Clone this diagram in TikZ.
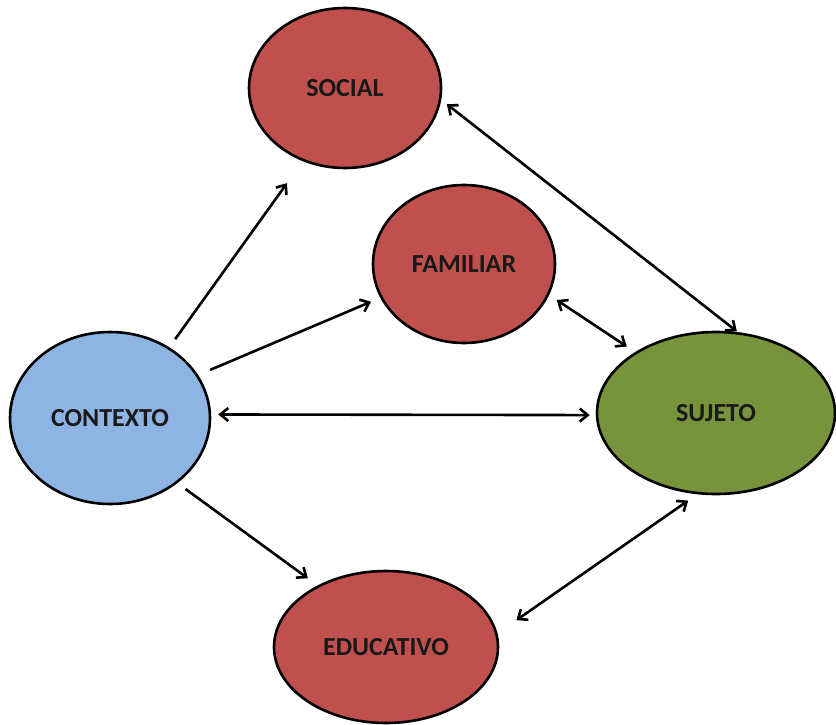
\documentclass[tikz,border=0pt]{standalone}
\usepackage{fontspec}
\setmainfont{Carlito}
\usetikzlibrary{shapes.geometric,arrows.meta}
\definecolor{redfill}{HTML}{C0504D}
\definecolor{bluefill}{HTML}{8EB4E3}
\definecolor{greenfill}{HTML}{77933C}
\begin{document}
\begin{tikzpicture}[x=1pt,y=-1pt,
  bubble/.style={ellipse,draw=black,line width=2.6pt,inner sep=0pt,text=black!90,
    font=\fontsize{26}{30}\selectfont\bfseries},
  link/.style={line width=2.6pt,-{Straight Barb[length=8pt,width=13pt]}},
  duo/.style={line width=2.6pt,{Straight Barb[length=8pt,width=13pt]}-{Straight Barb[length=8pt,width=13pt]}}]
\useasboundingbox[fill=white] (0,0) rectangle (836,725);
\node[bubble,fill=redfill,minimum width=192pt,minimum height=160pt] (soc) at (345,88) {SOCIAL};
\node[bubble,fill=redfill,minimum width=182pt,minimum height=158pt] (fam) at (464,264) {FAMILIAR};
\node[bubble,fill=bluefill,minimum width=200pt,minimum height=172pt] (ctx) at (110,418) {CONTEXTO};
\node[bubble,fill=greenfill,minimum width=238pt,minimum height=162pt] (suj) at (716,413) {SUJETO};
\node[bubble,fill=redfill,minimum width=224pt,minimum height=152pt] (edu) at (386,647) {EDUCATIVO};
\draw[link,shorten <=10pt,shorten >=27pt] (ctx.50) -- (soc.240);
\draw[link,shorten <=13pt,shorten >=10pt] (ctx.26) -- (fam.202);
\draw[duo,shorten <=7pt,shorten >=6pt] (ctx.2) -- (suj.181);
\draw[link,shorten <=10pt,shorten >=12pt] (ctx.-44) -- (edu.138);
\draw[duo,shorten <=7pt,shorten >=1pt] (soc.-7) -- (suj.75);
\draw[duo,shorten <=9pt,shorten >=10pt] (fam.-20) -- (suj.143);
\draw[duo,shorten <=23pt,shorten >=11pt] (edu.7) -- (suj.-103);
\end{tikzpicture}
\end{document}
